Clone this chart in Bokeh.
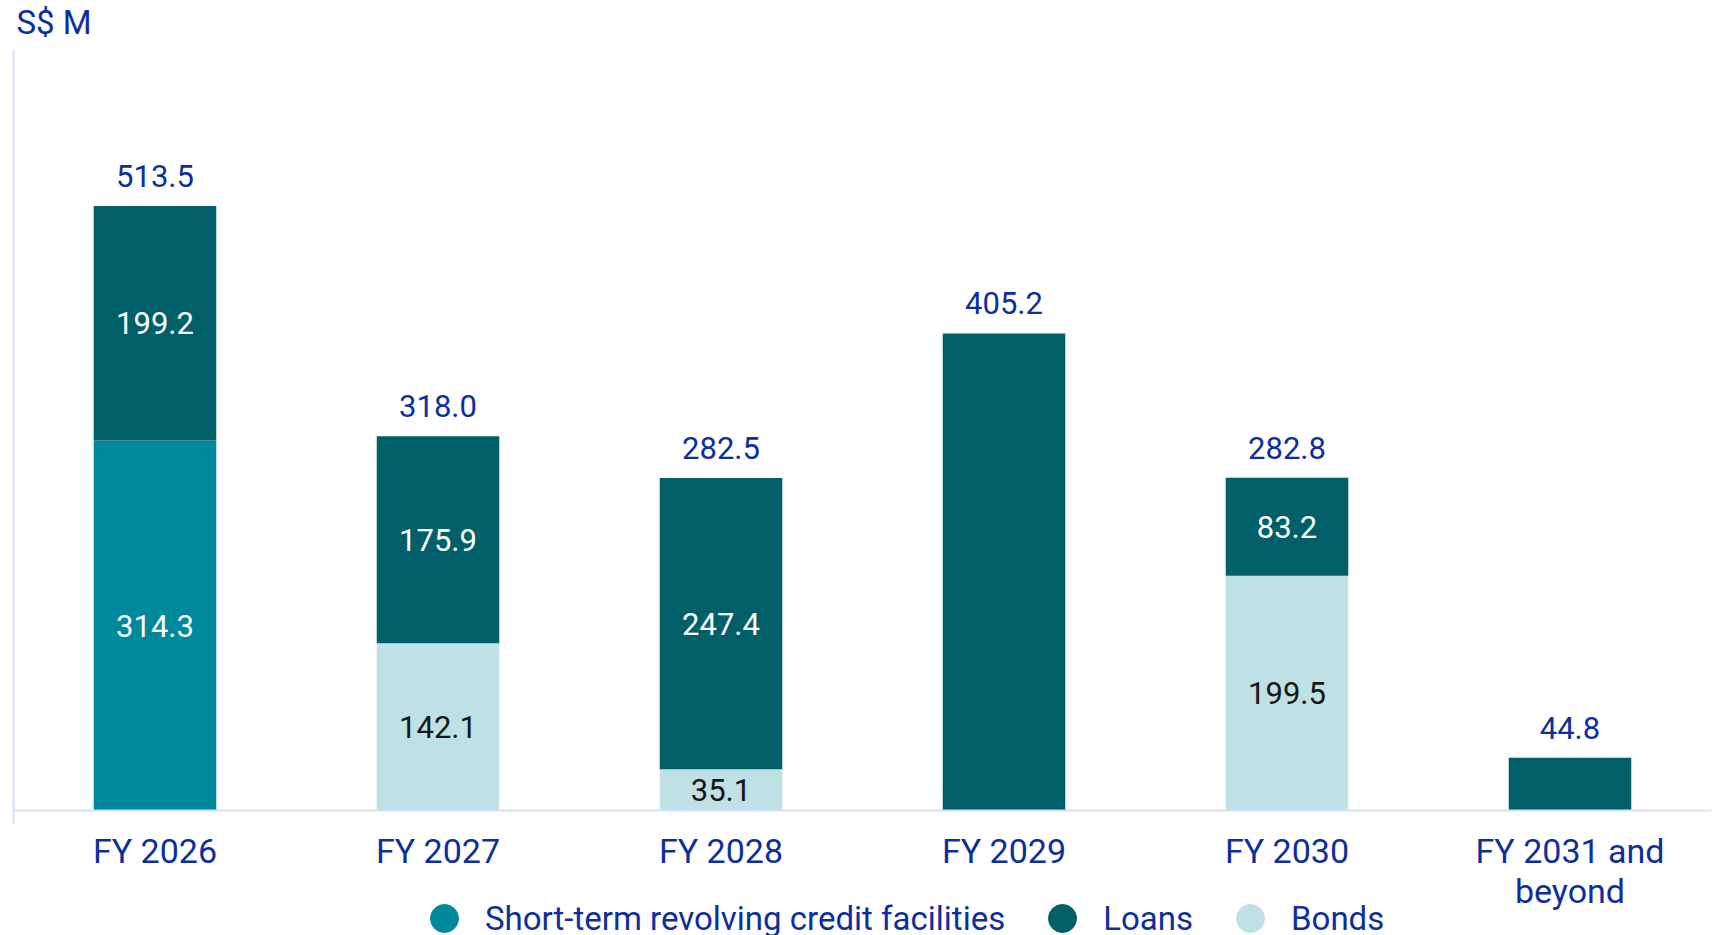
from bokeh.plotting import figure
from bokeh.models import ColumnDataSource, FactorRange, Range1d, Legend, LegendItem, Label, FixedTicker
from bokeh.core.properties import value
from bokeh.embed import file_html
from bokeh.resources import INLINE

categories = ["FY 2026", "FY 2027", "FY 2028", "FY 2029", "FY 2030", "FY 2031 and\nbeyond"]
short_term = [314.3, 0, 0, 0, 0, 0]
bonds = [0, 142.1, 35.1, 0, 199.5, 0]
loans = [199.2, 175.9, 247.4, 405.2, 83.2, 44.8]
totals = [513.5, 318.0, 282.5, 405.2, 282.8, 44.8]
short_labels = ["314.3", "", "", "", "", ""]
bond_labels = ["", "142.1", "35.1", "", "199.5", ""]
loan_labels = ["199.2", "175.9", "247.4", "", "83.2", ""]
total_labels = ["513.5", "318.0", "282.5", "405.2", "282.8", "44.8"]
unit_label = "S$ M"
series_names = ["Short-term revolving credit facilities", "Loans", "Bonds"]

C_SHORT = "#00889B"
C_LOAN = "#005F69"
C_BOND = "#BFE0E5"
C_TEXT = "#0D2F9E"
C_AXIS = "#D6E1F8"
FONT = "Roboto"

AXIS_MAX = 645.6
Y_TOP = 688.07      # room above the axis for the unit label
Y_BOTTOM = -121.47  # room below the baseline for axis labels and legend

src = ColumnDataSource(dict(cat=categories, short=short_term, bonds=bonds, loans=loans))

p = figure(x_range=FactorRange(*categories, range_padding=0), y_range=Range1d(Y_BOTTOM, Y_TOP),
           frame_width=1698, frame_height=953, output_backend="svg", toolbar_location=None,
           min_border_left=13, min_border_right=3, min_border_top=0, min_border_bottom=0)

p.vbar_stack(["short", "bonds", "loans"], x="cat", width=0.433, source=src,
             color=[C_SHORT, C_BOND, C_LOAN], line_width=0)

# inner labels (segment midpoints computed from data)
lx, ly, lt, lc = [], [], [], []
for i, c in enumerate(categories):
    base = 0.0
    for val, lab, col in ((short_term[i], short_labels[i], "white"),
                          (bonds[i], bond_labels[i], "#161616"),
                          (loans[i], loan_labels[i], "white")):
        if lab:
            lx.append(c); ly.append(base + val / 2); lt.append(lab); lc.append(col)
        base += val
p.text(x=lx, y=ly, text=lt, text_color=lc, text_align="center", text_baseline="middle",
       text_font=value(FONT), text_font_size="31px")

p.text(x=categories, y=totals, text=total_labels, text_color=C_TEXT, text_align="center",
       text_baseline="middle", y_offset=-30, text_font=value(FONT), text_font_size="31px")

# unit label at top-left
p.add_layout(Label(x=3, y=953 - 22, x_units="screen", y_units="screen", text=unit_label,
                   text_font=FONT, text_font_size="33px", text_color=C_TEXT,
                   text_baseline="middle", text_align="left"))

# legend with circle glyphs
r_short = p.scatter(x=[categories[0]], y=[float("nan")], marker="circle", color=C_SHORT)
r_loan = p.scatter(x=[categories[0]], y=[float("nan")], marker="circle", color=C_LOAN)
r_bond = p.scatter(x=[categories[0]], y=[float("nan")], marker="circle", color=C_BOND)
legend = Legend(items=[LegendItem(label=series_names[0], renderers=[r_short]),
                       LegendItem(label=series_names[1], renderers=[r_loan]),
                       LegendItem(label=series_names[2], renderers=[r_bond])],
                orientation="horizontal", location=(396, 0),
                glyph_width=70, glyph_height=70, label_standoff=6, spacing=22,
                padding=0, margin=0, border_line_color=None, background_fill_alpha=0,
                label_text_font=FONT, label_text_font_size="33px", label_text_color=C_TEXT,
                label_height=70)
p.add_layout(legend, "center")

p.xgrid.grid_line_color = None
p.ygrid.grid_line_color = None
p.outline_line_color = None

p.xaxis.fixed_location = 0
p.xaxis.axis_line_color = C_AXIS
p.xaxis.axis_line_width = 2
p.xaxis.major_tick_line_color = None
p.xaxis.minor_tick_line_color = None
p.xaxis.major_label_text_font = FONT
p.xaxis.major_label_text_font_size = "34px"
p.xaxis.major_label_text_line_height = 1.0
p.xaxis.major_label_text_color = C_TEXT
p.xaxis.major_label_standoff = 14

p.yaxis.ticker = FixedTicker(ticks=[])
p.yaxis.bounds = (-11, AXIS_MAX)
p.yaxis.axis_line_color = C_AXIS
p.yaxis.axis_line_width = 2
p.yaxis.major_tick_line_color = None
p.yaxis.minor_tick_line_color = None
p.yaxis.major_label_standoff = 0
p.yaxis.major_tick_out = 0
p.yaxis.major_tick_in = 0

open("out.html", "w").write(file_html(p, INLINE))
